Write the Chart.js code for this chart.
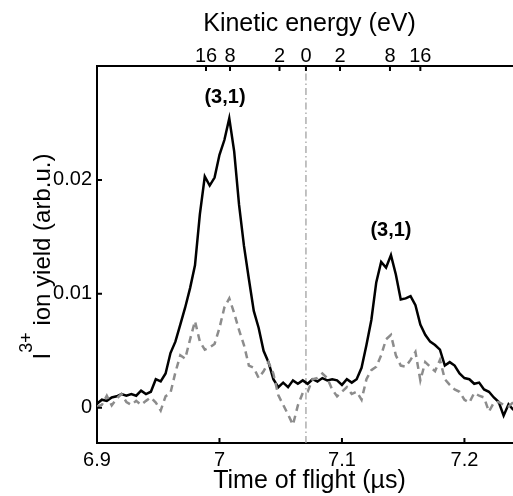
<!DOCTYPE html>
<html lang="en">
<head>
    <meta charset="UTF-8">
    <title>I3+ ion yield vs time of flight</title>
    <script src="https://cdn.jsdelivr.net/npm/chart.js"></script>
    <style>
        html, body { margin: 0; padding: 0; overflow: hidden; background: #fff; }
    </style>
</head>
<body>
    <canvas id="tofChart" width="530" height="496"></canvas>
    <script>
        // time of flight (µs)
        const times = [
            6.900, 6.904, 6.908, 6.912, 6.916, 6.920, 6.924, 6.928, 6.932, 6.936,
            6.940, 6.944, 6.948, 6.952, 6.956, 6.960, 6.964, 6.968, 6.972, 6.976,
            6.980, 6.984, 6.988, 6.992, 6.996, 7.000, 7.004, 7.008, 7.012, 7.016,
            7.020, 7.024, 7.028, 7.032, 7.036, 7.040, 7.044, 7.048, 7.052, 7.056,
            7.060, 7.064, 7.068, 7.072, 7.076, 7.080, 7.084, 7.088, 7.092, 7.096,
            7.100, 7.104, 7.108, 7.112, 7.116, 7.120, 7.124, 7.128, 7.132, 7.136,
            7.140, 7.144, 7.148, 7.152, 7.156, 7.160, 7.164, 7.168, 7.172, 7.176,
            7.180, 7.184, 7.188, 7.192, 7.196, 7.200, 7.204, 7.208, 7.212, 7.216,
            7.220, 7.224, 7.228, 7.232, 7.236, 7.240
        ];
        // solid black trace
        const yieldSolid = [
            0.00035, 0.0007, 0.0006, 0.0009, 0.0010, 0.0012, 0.00105, 0.0012, 0.00105, 0.0015,
            0.0012, 0.0014, 0.0025, 0.0023, 0.0030, 0.0048, 0.0058, 0.0073, 0.0088, 0.0105,
            0.0125, 0.0170, 0.0203, 0.0195, 0.0202, 0.0222, 0.0235, 0.0254, 0.0225, 0.0178,
            0.0142, 0.0113, 0.0085, 0.0070, 0.0050, 0.0040, 0.0025, 0.0018, 0.0022, 0.0018,
            0.0024, 0.0021, 0.0024, 0.0021, 0.0025, 0.0023, 0.0026, 0.0024, 0.0025, 0.0024,
            0.0020, 0.0025, 0.0022, 0.0025, 0.0035, 0.0055, 0.0077, 0.0110, 0.0128, 0.0123,
            0.0134, 0.0117, 0.0095, 0.0096, 0.0098, 0.0090, 0.0073, 0.0064, 0.0058, 0.0055,
            0.0051, 0.0037, 0.0040, 0.0037, 0.0030, 0.0026, 0.0025, 0.0021, 0.0022, 0.0016,
            0.0014, 0.0009, 0.0005, -0.0007, 0.0003, -0.0002
        ];
        // grey dashed trace
        const yieldDashed = [
            0.0001, 0.00025, 0.00105, 0.0002, 0.0008, 0.0012, 0.0005, 0.00025, 0.0006, 0.00025,
            0.0006, 0.0009, 0.00045, -0.00025, 0.0010, 0.0013, 0.0031, 0.0046, 0.0043, 0.0060,
            0.0076, 0.0058, 0.0051, 0.0053, 0.0056, 0.0070, 0.0088, 0.0096, 0.0083, 0.0068,
            0.0055, 0.0037, 0.0035, 0.0026, 0.0032, 0.0040, 0.0030, 0.0011, 0.00025, -0.0006,
            -0.0015, 0.0002, 0.0013, 0.0014, 0.0025, 0.0026, 0.0030, 0.0026, 0.0016, 0.0010,
            0.0014, 0.0018, 0.0012, 0.0014, 0.0007, 0.0025, 0.0033, 0.0036, 0.0046, 0.0060,
            0.0064, 0.0046, 0.0037, 0.0036, 0.0042, 0.0049, 0.0024, 0.0040, 0.0036, 0.0032,
            0.0042, 0.0025, 0.0020, 0.0016, 0.0014, 0.0007, 0.00045, 0.0013, 0.00105, 0.0009,
            -0.00035, 0.00045, 0.0005, 0.00025, 0.0001, 0.0005
        ];

        const zeroEnergyTime = 7.0706;
        const yMin = -0.0031;
        const yMax = 0.030;
        const xMin = 6.9;
        const xMax = 7.247;

        const xTicks = [6.9, 7.0, 7.1, 7.2];
        const xTickLabels = ['6.9', '7', '7.1', '7.2'];
        const yTicks = [0, 0.01, 0.02];
        const yTickLabels = ['0', '0.01', '0.02'];
        // top axis: kinetic energy ticks placed at their flight times
        const energyTickTimes = [6.9890, 7.0086, 7.0490, 7.0706, 7.0984, 7.1392, 7.1640];
        const energyTickLabels = ['16', '8', '2', '0', '2', '8', '16'];

        const peakLabels = [
            { t: 7.0045, y: 0.0272, text: '(3,1)' },
            { t: 7.1400, y: 0.0156, text: '(3,1)' }
        ];

        const family = "'Liberation Sans', Arial, Helvetica, sans-serif";
        Chart.defaults.font.family = family;
        Chart.defaults.color = '#000';

        const extras = {
            id: 'extras',
            afterDraw(chart) {
                const { ctx, chartArea: a, scales } = chart;
                const x = scales.x, x2 = scales.x2, y = scales.y;
                ctx.save();

                // inward tick marks
                ctx.strokeStyle = '#000';
                ctx.lineWidth = 2;
                ctx.beginPath();
                xTicks.forEach(v => {
                    const px = x.getPixelForValue(v);
                    ctx.moveTo(px, a.bottom);
                    ctx.lineTo(px, a.bottom - 5);
                });
                energyTickTimes.forEach(v => {
                    const px = x2.getPixelForValue(v);
                    ctx.moveTo(px, a.top);
                    ctx.lineTo(px, a.top + 5);
                });
                yTicks.forEach(v => {
                    const py = y.getPixelForValue(v);
                    ctx.moveTo(a.left, py);
                    ctx.lineTo(a.left + 5, py);
                });
                ctx.stroke();

                // peak labels
                ctx.fillStyle = '#000';
                ctx.font = 'bold 20px ' + family;
                ctx.textAlign = 'center';
                ctx.textBaseline = 'middle';
                peakLabels.forEach(p => {
                    ctx.fillText(p.text, x.getPixelForValue(p.t), y.getPixelForValue(p.y));
                });

                // y axis title with superscript
                const big = '24px ' + family;
                const small = '18px ' + family;
                const rest = ' ion yield (arb.u.)';
                ctx.font = big;
                const wI = ctx.measureText('I').width;
                const wRest = ctx.measureText(rest).width;
                ctx.font = small;
                const wSup = ctx.measureText('3+').width;
                const total = wI + wSup + wRest;
                ctx.translate(50, (a.top + a.bottom) / 2 + 2);
                ctx.rotate(-Math.PI / 2);
                ctx.textAlign = 'left';
                ctx.textBaseline = 'alphabetic';
                let cx = -total / 2;
                ctx.font = big;
                ctx.fillText('I', cx, 0);
                cx += wI;
                ctx.font = small;
                ctx.fillText('3+', cx, -18);
                cx += wSup;
                ctx.font = big;
                ctx.fillText(rest, cx, 0);
                ctx.restore();
            }
        };

        const ctx = document.getElementById('tofChart').getContext('2d');
        new Chart(ctx, {
            type: 'line',
            data: {
                datasets: [
                    {
                        data: times.map((t, i) => ({ x: t, y: yieldDashed[i] })),
                        borderColor: '#8c8c8c',
                        borderWidth: 2.5,
                        borderDash: [7, 5],
                        pointRadius: 0,
                        tension: 0
                    },
                    {
                        data: times.map((t, i) => ({ x: t, y: yieldSolid[i] })),
                        borderColor: '#000',
                        borderWidth: 2.5,
                        pointRadius: 0,
                        tension: 0
                    },
                    {
                        data: [{ x: zeroEnergyTime, y: yMin }, { x: zeroEnergyTime, y: yMax }],
                        borderColor: '#9a9a9a',
                        borderWidth: 1.2,
                        borderDash: [7, 3, 1.5, 3],
                        pointRadius: 0
                    }
                ]
            },
            options: {
                responsive: false,
                animation: false,
                layout: { padding: { left: 0, right: 8, top: 0, bottom: 0 } },
                plugins: {
                    legend: { display: false },
                    tooltip: { enabled: false }
                },
                scales: {
                    x: {
                        type: 'linear',
                        position: 'bottom',
                        min: xMin,
                        max: xMax,
                        afterFit: s => { s.height = 53; },
                        afterBuildTicks: s => { s.ticks = xTicks.map(v => ({ value: v })); },
                        ticks: {
                            callback: (v, i) => xTickLabels[i],
                            font: { size: 20 },
                            padding: 5,
                            autoSkip: false,
                            maxRotation: 0
                        },
                        grid: { display: false, drawTicks: false },
                        border: { display: true, color: '#000', width: 2 },
                        title: {
                            display: true,
                            text: 'Time of flight (µs)',
                            font: { size: 25 },
                            padding: { top: 0, bottom: 0 }
                        }
                    },
                    x2: {
                        type: 'linear',
                        position: 'top',
                        min: xMin,
                        max: xMax,
                        afterFit: s => { s.height = 66; },
                        afterBuildTicks: s => { s.ticks = energyTickTimes.map(v => ({ value: v })); },
                        ticks: {
                            callback: (v, i) => energyTickLabels[i],
                            font: { size: 20 },
                            padding: -2,
                            autoSkip: false,
                            maxRotation: 0
                        },
                        grid: { display: false, drawTicks: false },
                        border: { display: true, color: '#000', width: 2 },
                        title: {
                            display: true,
                            text: 'Kinetic energy (eV)',
                            font: { size: 25 },
                            padding: { top: 9, bottom: 0 }
                        }
                    },
                    y: {
                        min: yMin,
                        max: yMax,
                        afterFit: s => { s.width = 97; },
                        afterBuildTicks: s => { s.ticks = yTicks.map(v => ({ value: v })); },
                        ticks: {
                            callback: (v, i) => yTickLabels[i],
                            font: { size: 20 },
                            padding: 5
                        },
                        grid: { display: false, drawTicks: false },
                        border: { display: true, color: '#000', width: 2 }
                    }
                }
            },
            plugins: [extras]
        });
    </script>
</body>
</html>
